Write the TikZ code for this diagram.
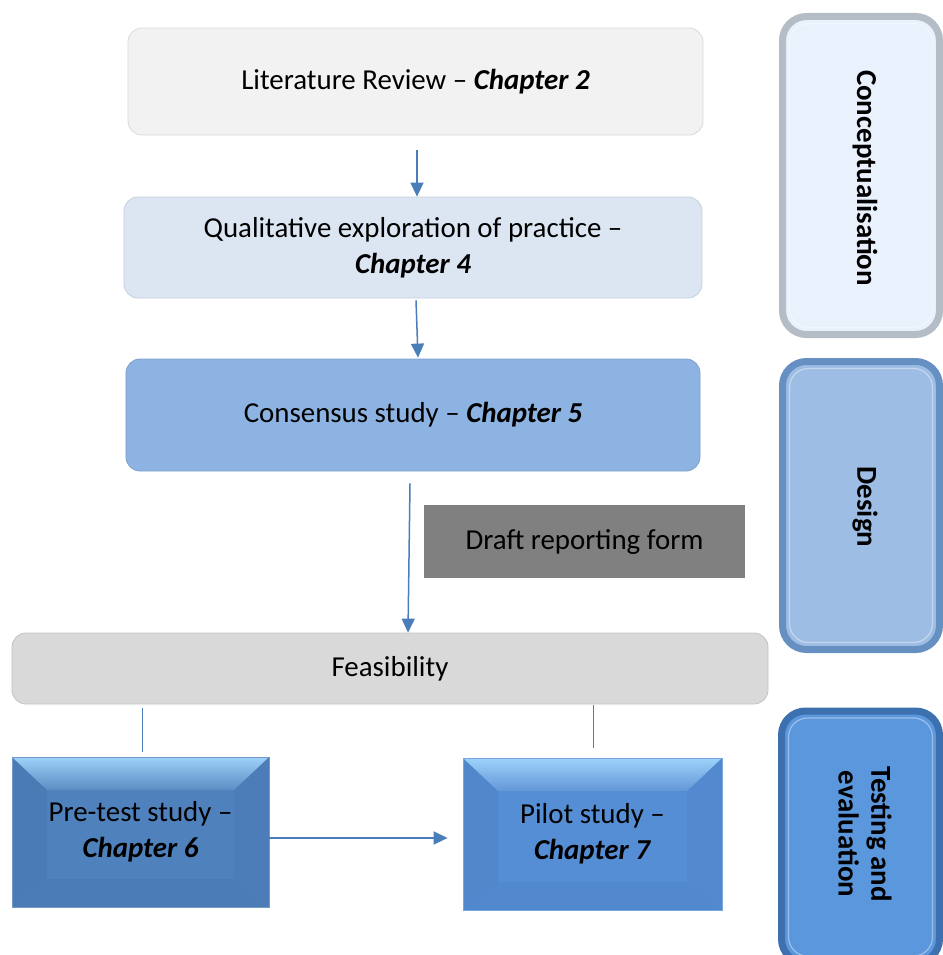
\documentclass[tikz,border=0pt]{standalone}
\usepackage{fontspec}
\setmainfont{Carlito}
\usetikzlibrary{arrows.meta,calc}
\definecolor{litc}{HTML}{F2F2F2}
\definecolor{qualc}{HTML}{DCE6F2}
\definecolor{consc}{HTML}{8DB3E2}
\definecolor{draftc}{HTML}{808080}
\definecolor{feasc}{HTML}{D9D9D9}
\definecolor{arrc}{HTML}{4A7EBB}
\definecolor{prec}{HTML}{4F81BD}
\definecolor{pilc}{HTML}{558ED5}
\definecolor{topbev}{HTML}{9DD2FA}
\definecolor{concF}{HTML}{E8F1FC}
\definecolor{concB}{HTML}{B4BCC6}
\definecolor{desF}{HTML}{9EBDE4}
\definecolor{desB}{HTML}{6690C2}
\definecolor{tesF}{HTML}{5B97DD}
\definecolor{tesB}{HTML}{3D70AE}
\tikzset{
  lbox/.style={rounded corners=14bp, fill=#1, draw=#1!90!black, line width=0.8bp,
    align=center, inner sep=0pt},
  plainbox/.style={fill=#1, draw=none, align=center, inner sep=0pt},
  conn/.style={draw=arrc, line width=1.5bp},
  arr/.style={conn, -{Triangle[length=14bp,width=13bp]}},
  bevel/.style={fill=#1, draw=#1!80!white, line width=0.8bp, align=center, inner sep=0pt,
    path picture={
      \path (path picture bounding box.north west) coordinate (bw)
            (path picture bounding box.south east) coordinate (be);
      \shade[top color=topbev, bottom color=#1!92!white]
        (bw) -- (bw -| be) -- ($(bw -| be)+(-35,33)$) -- ($(bw)+(35,33)$) -- cycle;
      \fill[black,opacity=0.04]
        (bw) -- ($(bw)+(35,33)$) -- ($(bw |- be)+(35,-28)$) -- (bw |- be) -- cycle;
      \fill[black,opacity=0.025]
        (bw -| be) -- ($(bw -| be)+(-35,33)$) -- ($(be)+(-35,-28)$) -- (be) -- cycle;
      \fill[black,opacity=0.035]
        (bw |- be) -- ($(bw |- be)+(35,-28)$) -- ($(be)+(-35,-28)$) -- (be) -- cycle;
    }},
  sidebox/.style 2 args={rounded corners=24bp, fill=#2, draw=#1, line width=7bp, inner sep=0pt},
  sideinner/.style={rounded corners=19bp, draw=white, opacity=0.4, line width=1.2bp, inner sep=0pt},
  sidelabel/.style={rotate=-90, font=\fontsize{29}{33}\selectfont\bfseries, align=center, inner sep=0pt}
}
\begin{document}
\begin{tikzpicture}[x=1bp, y=-1bp, font=\fontsize{29}{36}\selectfont]
\useasboundingbox (0,0) rectangle (943,955);
\clip (0,0) rectangle (943,955);

% left column boxes
\node[lbox=litc, minimum width=575bp, minimum height=107bp] (lit) at (415.5,81.5)
  {Literature Review – \textbf{\textit{Chapter 2}}};
\node[lbox=qualc, minimum width=578bp, minimum height=101bp] (qual) at (413,247.5)
  {Qualitative exploration of practice –\\ \textbf{\textit{Chapter 4}}};
\node[lbox=consc, minimum width=574bp, minimum height=112bp] (cons) at (413,415)
  {Consensus study – \textbf{\textit{Chapter 5}}};
\node[plainbox=draftc, minimum width=321bp, minimum height=73bp] (draft) at (584.5,541.5)
  {Draft reporting form};
\node[lbox=feasc, minimum width=756bp, minimum height=71bp] (feas) at (390,668.5)
  {Feasibility};
\node[bevel=prec, minimum width=257bp, minimum height=150bp] (pre) at (140.5,832)
  {Pre-test study –\\ \textbf{\textit{Chapter 6}}};
\node[bevel=pilc, minimum width=259bp, minimum height=152bp] (pil) at (592.5,834)
  {Pilot study –\\ \textbf{\textit{Chapter 7}}};

% right column phase boxes
\node[sidebox={concB}{concF}, minimum width=157bp, minimum height=318bp] (concbox) at (861,175.5) {};
\node[sideinner, minimum width=143bp, minimum height=304bp] (concin) at (concbox.center) {};
\node[sidelabel] (conc) at (865,178) {Conceptualisation};

\node[sidebox={desB}{desF}, minimum width=157bp, minimum height=288bp] (desbox) at (861,505.5) {};
\node[sideinner, minimum width=143bp, minimum height=274bp] (desin) at (desbox.center) {};
\node[sidelabel] (des) at (865,507) {Design};

\node[sidebox={tesB}{tesF}, minimum width=158bp, minimum height=252bp] (tesbox) at (860.5,837) {};
\node[sideinner, minimum width=144bp, minimum height=238bp] (tesin) at (tesbox.center) {};
\node[sidelabel] (tes) at (865,834) {Testing and\\evaluation};

% connectors
\coordinate (a1s) at ($(lit.south)+(1.5,15)$);
\draw[arr] (a1s) -- (a1s |- qual.north);
\coordinate (a2s) at ($(qual.south)+(3,2)$);
\coordinate (a2e) at ($(cons.north)+(5,-1)$);
\draw[arr] (a2s) -- (a2e);
\coordinate (a3s) at ($(cons.south)+(-3,12)$);
\coordinate (a3e) at ($(feas.north)+(18,0)$);
\draw[arr] (a3s) -- (a3e);
\coordinate (l1s) at ($(feas.south west)+(131,4)$);
\draw[conn] (l1s) -- ++(0,44) coordinate (l1e);
\coordinate (l2s) at ($(feas.south west)+(582,1)$);
\draw[conn] (l2s) -- ++(0,43) coordinate (l2e);
\coordinate (a4s) at ($(pre.east)+(0,6)$);
\coordinate (a4e) at ($(pil.west)+(-15,4)$);
\draw[arr] (a4s) -- (a4e);
\end{tikzpicture}
\end{document}
